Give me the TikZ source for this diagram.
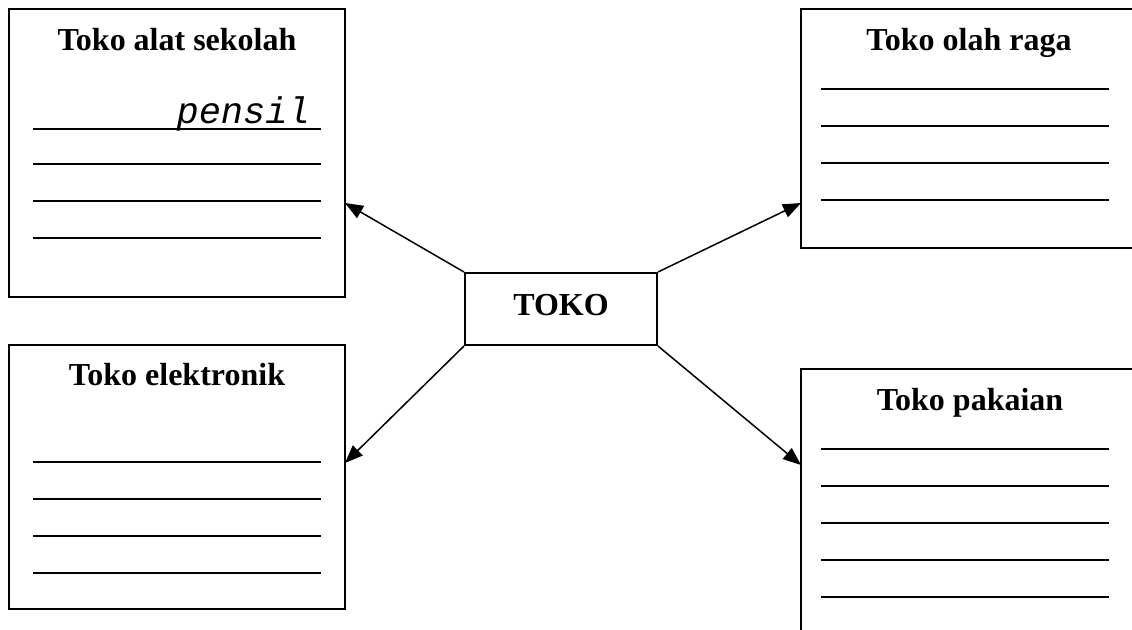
\documentclass[tikz,border=0pt]{standalone}
\usepackage{fontspec}
\setmainfont{Liberation Serif}
\newfontfamily\monofont{Liberation Mono}
\usetikzlibrary{arrows.meta}
\tikzset{
  shopbox/.style={draw, line width=2pt, rectangle, inner sep=0pt},
  title/.style={anchor=base, inner sep=0pt, font=\fontsize{32}{36}\selectfont\bfseries},
  rule/.style={line width=1.5pt},
  arr/.style={line width=1.5pt, -{Triangle[length=18pt,width=14pt]}}
}
\begin{document}
\begin{tikzpicture}[x=1pt,y=-1pt]
\useasboundingbox (0,0) rectangle (1132,629);
\clip (0,0) rectangle (1132,629);
\fill[white] (0,0) rectangle (1132,629);
% boxes
\node[shopbox, minimum width=336pt, minimum height=288pt] (b1) at (177,153) {};
\node[shopbox, minimum width=336pt, minimum height=239pt] (b2) at (969,128.5) {};
\node[shopbox, minimum width=336pt, minimum height=264pt] (b3) at (177,477) {};
\node[shopbox, minimum width=336pt, minimum height=291pt] (b4) at (969,514.5) {};
\node[shopbox, minimum width=192pt, minimum height=72pt] (toko) at (561,309) {};
% titles
\node[title] (t1) at (177,50) {Toko alat sekolah};
\node[title] (t2) at (969,50) {Toko olah raga};
\node[title] (t3) at (177,385) {Toko elektronik};
\node[title] (t4) at (970,410) {Toko pakaian};
\node[title] (t0) at (561,315) {TOKO};
\node[anchor=base east, inner sep=0pt, font=\fontsize{37}{40}\selectfont\monofont\itshape] (pen) at (310,123) {pensil};
% rules
\foreach \y in {129,164,201,238} \draw[rule] (33,\y) -- (321,\y);
\foreach \y in {89,126,163,200} \draw[rule] (821,\y) -- (1109,\y);
\foreach \y in {462,499,536,573} \draw[rule] (33,\y) -- (321,\y);
\foreach \y in {449,486,523,560,597} \draw[rule] (821,\y) -- (1109,\y);
% arrow targets
\coordinate (a1) at (345,203);
\coordinate (a2) at (801,203);
\coordinate (a3) at (345,463);
\coordinate (a4) at (801,465);
\draw[arr] (toko.north west) -- (a1);
\draw[arr] (toko.north east) -- (a2);
\draw[arr] (toko.south west) -- (a3);
\draw[arr] (toko.south east) -- (a4);
\end{tikzpicture}
\end{document}
